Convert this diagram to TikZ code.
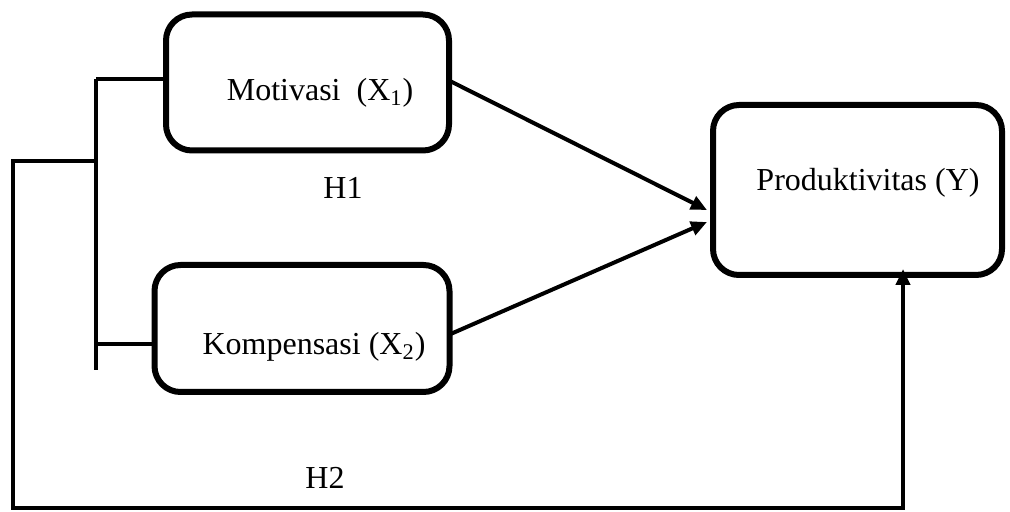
\documentclass[tikz,border=0pt]{standalone}
\usepackage{fontspec}
\setmainfont{Liberation Serif}
\usetikzlibrary{arrows.meta,calc}
\tikzset{
  box/.style={draw=black, line width=3pt, rounded corners=13pt, inner sep=0pt, outer sep=0pt},
  conn/.style={draw=black, line width=2pt},
  arr/.style={conn, -{Triangle[length=8pt,width=7pt]}},
  lbl/.style={font=\fontsize{16}{19}\selectfont, inner sep=0pt}
}
\begin{document}
\begin{tikzpicture}[x=0.5pt,y=-0.5pt]
\useasboundingbox (0,0) rectangle (1010,512);
% boxes
\node[box, minimum width=141.5pt, minimum height=68pt] (m) at (307.5,82.5) {};
\node[box, minimum width=147.5pt, minimum height=63.5pt] (k) at (302,328.5) {};
\node[box, minimum width=144.5pt, minimum height=85pt] (p) at (857.5,190) {};
% texts
\node[lbl] (mt) at (320,93) {Motivasi~~(X\textsubscript{1})};
\node[lbl] (kt) at (314,347) {Kompensasi (X\textsubscript{2})};
\node[lbl] (pt) at (868,183) {Produktivitas (Y)};
\node[lbl] (h1) at (343,188) {H1};
\node[lbl] (h2) at (325,478) {H2};
% bracket
\coordinate (b1) at (96,79);
\coordinate (b2) at (96,344);
\coordinate (bend) at (96,370);
\coordinate (o1) at (96,161);
\coordinate (o2) at (13,161);
\coordinate (o3) at (13,508);
\coordinate (q) at (903,508);
\draw[conn, line width=2.4pt] (b1) -- (bend);
\draw[conn] (b1) -- (b1 -| m.west);
\draw[conn] (b2) -- (b2 -| k.west);
% direct arrows
\draw[arr] ([yshift=1pt]m.east) -- ([xshift=-3pt,yshift=-10pt]p.west);
\draw[arr] ([yshift=-3pt]k.east) -- ([xshift=-3pt,yshift=-16pt]p.west);
% outer loop
\draw[arr] (o1) -- (o2) -- (o3) -- (q) -- ([yshift=3pt]q |- p.south);
\end{tikzpicture}
\end{document}
